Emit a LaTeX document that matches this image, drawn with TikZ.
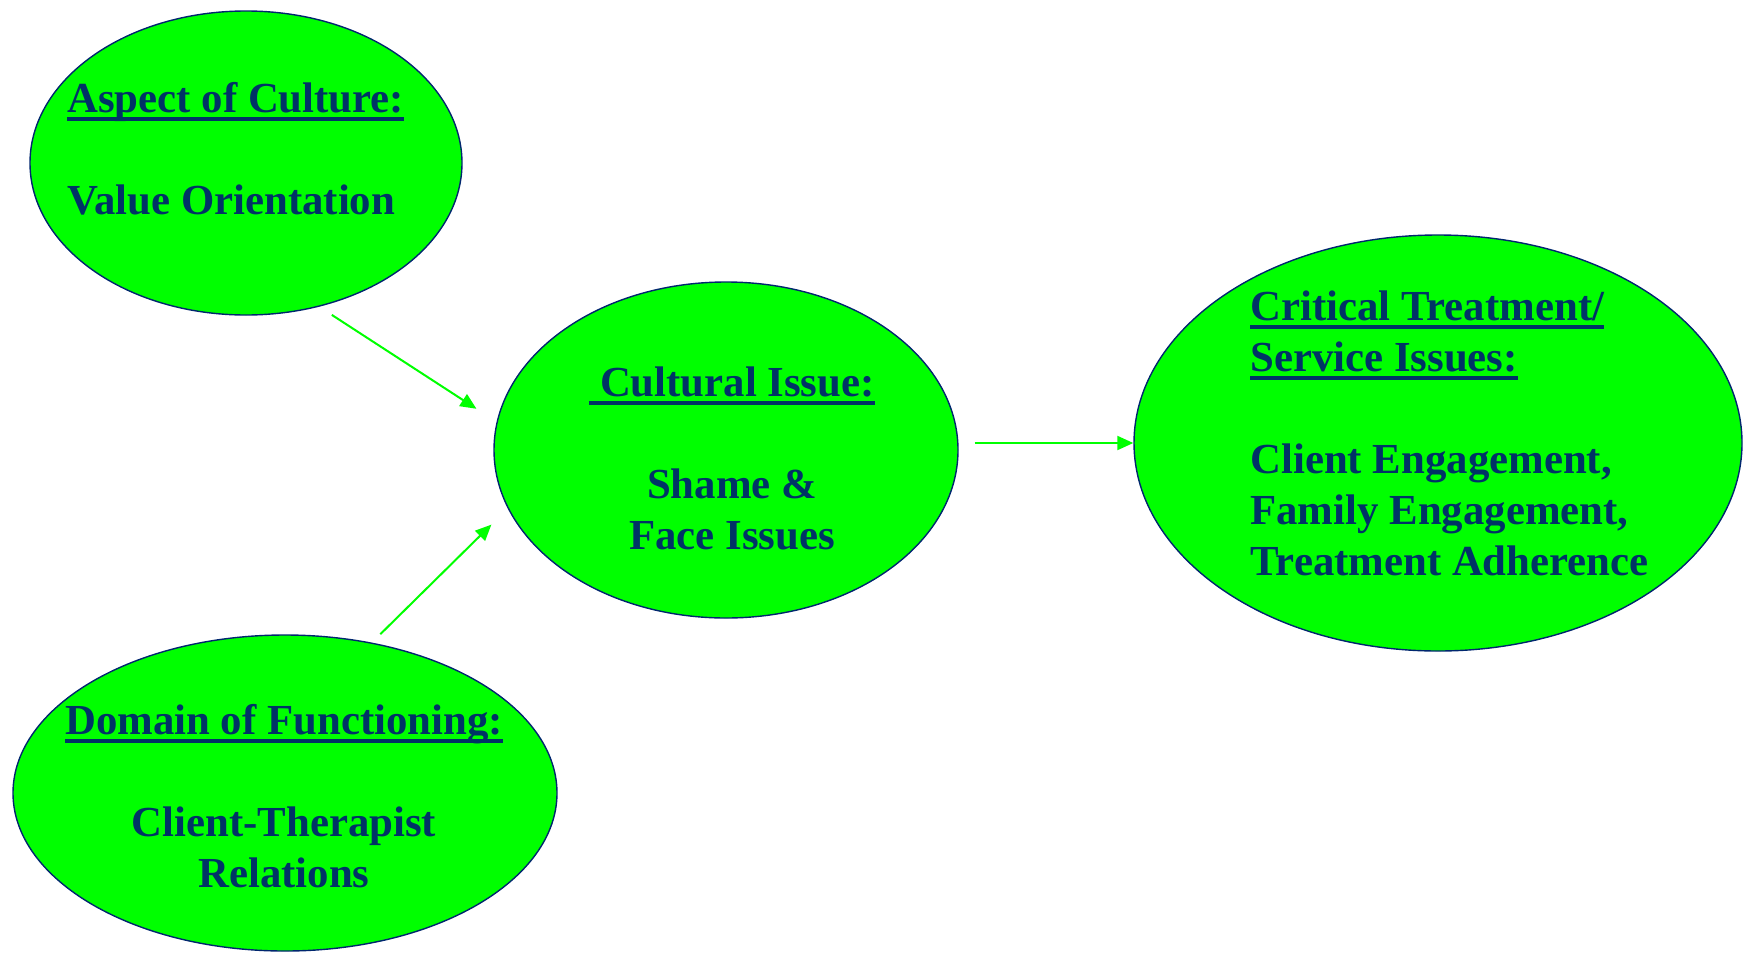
\documentclass[tikz,border=0pt]{standalone}
\usepackage{fontspec}
\setmainfont{Liberation Serif}
\usetikzlibrary{arrows.meta,shapes.geometric,calc}
\definecolor{brightgreen}{RGB}{0,255,0}
\definecolor{navytext}{RGB}{0,51,102}
\definecolor{navyline}{RGB}{0,38,110}
\newcommand{\hdline}[1]{\begingroup\setbox0\hbox{#1}\rlap{\rule[-4.3pt]{\wd0}{1.7pt}}\box0\endgroup}

\begin{document}
\begin{tikzpicture}[
  x=0.5pt, y=-0.5pt,
  bubble/.style={ellipse, draw=navyline, fill=brightgreen, line width=0.7pt, inner sep=0pt, minimum width=#1},
  txt/.style={inner sep=0pt, text=navytext, font=\bfseries\fontsize{21.4}{25.5}\selectfont},
  arrow/.style={-{Triangle[length=8pt,width=7pt]}, line width=1pt, draw=brightgreen},
]
  \useasboundingbox (0,0) rectangle (1748,953);

  \node[bubble=216pt, minimum height=152pt] (e1) at (246,163) {};
  \node[bubble=232pt, minimum height=168pt] (e2) at (726,450) {};
  \node[bubble=304pt, minimum height=208pt] (e3) at (1438,443) {};
  \node[bubble=272pt, minimum height=158pt] (e4) at (285,793) {};

  \node[txt, align=left, anchor=base west] (t1) at (67,214) {\hdline{Aspect of Culture:}\\[25.5pt]Value Orientation};
  \node[txt, align=center, anchor=base] (t2) at (732,549) {\hdline{\ Cultural Issue:}\\[25.5pt]Shame \&\\Face Issues};
  \node[txt, align=left, anchor=base west] (t3) at (1250,575) {\hdline{Critical Treatment/}\\\hdline{Service Issues:}\\[25.5pt]Client Engagement,\\Family Engagement,\\Treatment Adherence};
  \node[txt, align=center, anchor=base] (t4) at (284,887) {\hdline{Domain of Functioning:}\\[25.5pt]Client-Therapist\\Relations};

  \draw[arrow, shorten <=7.5pt, shorten >=12pt] (e1.-63) -- (e2.173);
  \draw[arrow, shorten <=6pt, shorten >=11.5pt] (e4.60) -- (e2.-165);
  \draw[arrow, shorten <=8pt] (e3.west -| e2.east) -- (e3.west);
\end{tikzpicture}
\end{document}
